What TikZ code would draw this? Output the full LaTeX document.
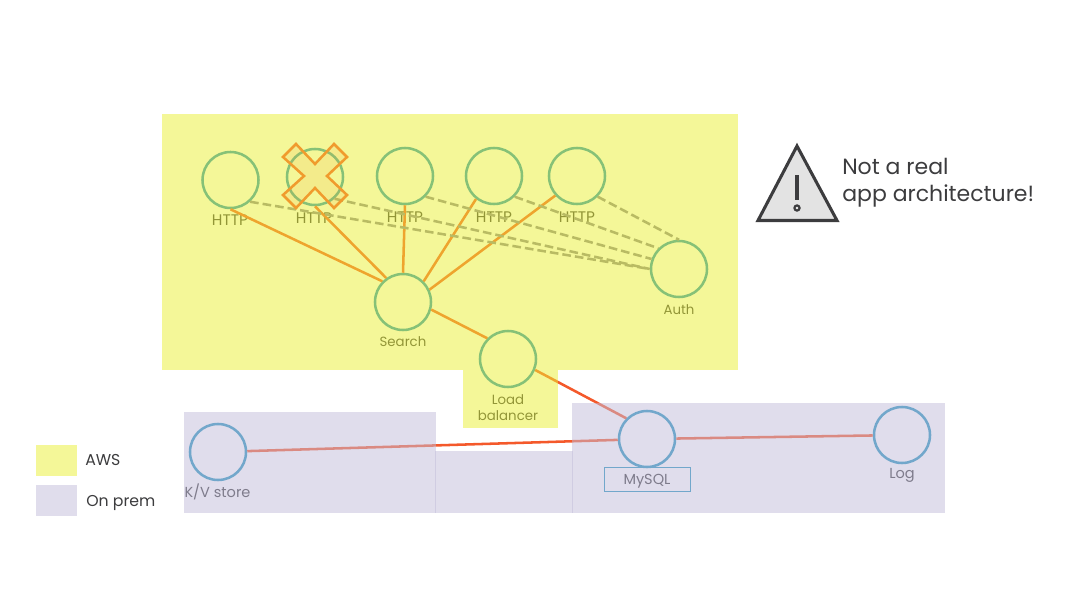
\documentclass[tikz,border=0pt]{standalone}
\usepackage{fontspec}
\setmainfont{Poppins}
\definecolor{txt}{RGB}{60,60,62}
\definecolor{nodeblue}{RGB}{35,147,190}
\definecolor{lineorange}{RGB}{244,89,43}
\definecolor{dashgray}{RGB}{137,135,151}
\definecolor{regyellow}{RGB}{233,239,49}
\definecolor{regpurple}{RGB}{193,187,217}
\definecolor{xorange}{RGB}{240,155,45}
\tikzset{
  x=0.75pt,y=-0.75pt,
  svc/.style={circle,draw=nodeblue,line width=1.9pt,minimum size=42pt,inner sep=0pt},
  lbl/.style={text=txt,font=\fontsize{10}{12}\selectfont,inner sep=0pt,align=center},
  httplbl/.style={lbl,font=\fontsize{11.5}{12}\selectfont},
  widelbl/.style={lbl,font=\fontsize{10.9}{12}\selectfont},
  solidline/.style={draw=lineorange,line width=1.9pt},
  dashline/.style={draw=dashgray,line width=1.9pt,dash pattern=on 6.5pt off 3pt},
  legendtxt/.style={text=txt,font=\fontsize{11.8}{14}\selectfont,inner sep=0pt,anchor=west},
}
\begin{document}
\begin{tikzpicture}
\useasboundingbox (0,0) rectangle (1068,600);
% services
\node[svc] (h1) at (230.5,180) {};
\node[svc] (h2) at (315,177) {};
\node[svc] (h3) at (405,176) {};
\node[svc] (h4) at (494,176) {};
\node[svc] (h5) at (577,176) {};
\node[svc] (search) at (403,302) {};
\node[svc] (auth) at (679,269) {};
\node[svc] (lb) at (508,359) {};
\node[svc] (kv) at (218,452) {};
\node[svc] (mysql) at (647,439) {};
\node[svc] (log) at (902,435) {};
% labels
\node[httplbl] (lh1) at (230,220) {HTTP};
\node[httplbl] (lh2) at (314,218) {HTTP};
\node[httplbl] (lh3) at (405,217) {HTTP};
\node[httplbl] (lh4) at (494,217) {HTTP};
\node[httplbl] (lh5) at (577,217) {HTTP};
\node[lbl] (lsearch) at (403,342) {Search};
\node[lbl] (lauth) at (679,310) {Auth};
\node[lbl] (llb) at (508,408) {Load\\balancer};
\node[widelbl] (lkv) at (217.5,492) {K/V store};
\node[widelbl] (lmysql) at (647,481) {MySQL};
\node[widelbl] (llog) at (902,475.5) {Log};
\node[draw=nodeblue,line width=0.45pt,minimum width=64.5pt,minimum height=18pt,inner sep=0pt] (mybox) at (647,479) {};
% solid connectors
\draw[solidline] (h1.south) -- (search.135);
\draw[solidline] (h2.south) -- (search.125);
\draw[solidline] (h3.south) -- (search.north);
\draw[solidline] (h4.232) -- (search.45);
\draw[solidline] (h5.222) -- (search.25);
\draw[solidline] (search.-15) -- (lb.135);
\draw[solidline] (lb.-22) -- (mysql.135);
\draw[solidline] (kv) -- (mysql);
\draw[solidline] (mysql) -- (log);
% dashed connectors
\draw[dashline] (h1.-48) -- (auth.180);
\draw[dashline] (h2.-48) -- (auth.180);
\draw[dashline] (h3.-45) -- (auth.160);
\draw[dashline] (h4.-45) -- (auth.135);
\draw[dashline] (h5.-45) -- (auth.north);
% translucent regions
\fill[regyellow,fill opacity=0.5] (162,114) rectangle (738,370);
\fill[regyellow,fill opacity=0.5] (463,369.5) rectangle (558,428);
\fill[regpurple,fill opacity=0.5] (184,412) rectangle (436,513);
\fill[regpurple,fill opacity=0.5] (435,451) rectangle (573,513);
\fill[regpurple,fill opacity=0.5] (572,403) rectangle (945,513);
% cross
\filldraw[draw=xorange,fill=xorange,fill opacity=0.12,line width=1.9pt,line join=miter]
 (296,144) -- (315,164) -- (334,144) -- (347,157) -- (327,176) -- (347,195) -- (334,208)
 -- (315,188) -- (296,208) -- (283,195) -- (304,176) -- (283,157) -- cycle;
% warning
\filldraw[draw=txt,fill=black!11,line width=2.3pt,line join=miter] (797,146) -- (837,220.5) -- (758,220.5) -- cycle;
\draw[txt,line width=2.3pt] (797,175) -- (797,200);
\draw[txt,line width=1.6pt] (797,208) circle (2.6);
\node[text=txt,font=\fontsize{16.5}{20}\selectfont,inner sep=0pt,anchor=west,align=left] (warn) at (842,183) {Not a real\\app architecture!};
% legend
\fill[regyellow,fill opacity=0.5] (36,445) rectangle (77,476);
\fill[regpurple,fill opacity=0.5] (36,485) rectangle (77,516);
\node[legendtxt] (laws) at (85,460) {AWS};
\node[legendtxt] (lprem) at (86,503) {On prem};
\end{tikzpicture}
\end{document}
